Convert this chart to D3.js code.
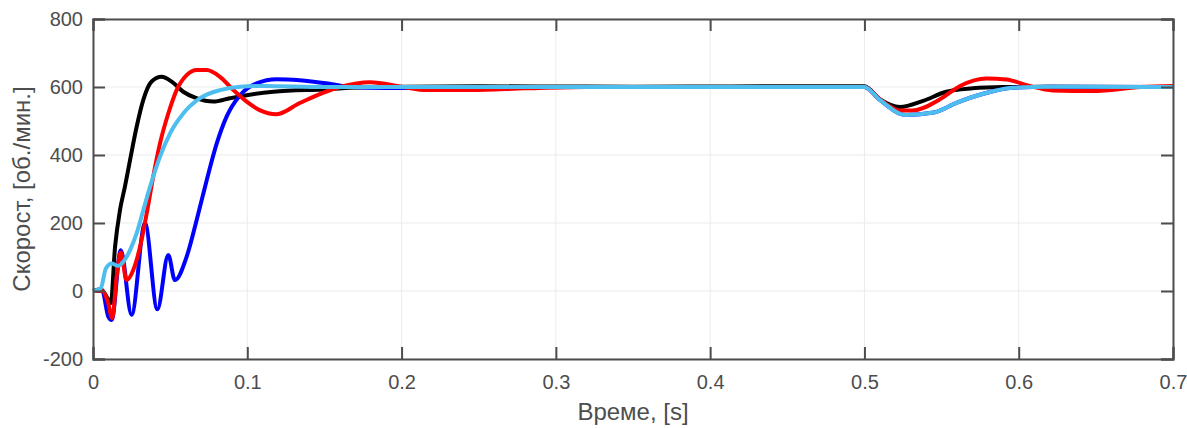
<!DOCTYPE html>
<html>
<head>
<meta charset="utf-8">
<script src="https://cdn.jsdelivr.net/npm/d3@7"></script>
<style>
  body { margin: 0; background: #fff; }
  text { font-family: "Liberation Sans", Arial, sans-serif; fill: #4d4d4d; }
</style>
</head>
<body>
<script>
var margin = {top: 19, right: 14, bottom: 69, left: 93};
var width = 1187 - margin.left - margin.right;
var height = 428 - margin.top - margin.bottom;

// time [s] and speed [rpm]
const blackT = [0, 0.005, 0.008, 0.0115, 0.0143, 0.0175, 0.0207, 0.024, 0.0283, 0.0326, 0.038, 0.0445, 0.051, 0.0585, 0.067, 0.078, 0.0888, 0.0996, 0.117, 0.149, 0.18, 0.25, 0.35, 0.45, 0.5, 0.51, 0.523, 0.538, 0.553, 0.57, 0.59, 0.62, 0.7];
const blackV = [0, 5, -10, -36, 130, 238, 307, 385, 483, 562, 616, 630, 616, 586, 567, 557, 567, 576, 586, 593, 600, 602, 601, 602, 602, 564, 541, 559, 586, 596, 600, 601, 600];

const redT = [0, 0.006, 0.0095, 0.0125, 0.0153, 0.018, 0.0218, 0.0261, 0.0305, 0.0348, 0.039, 0.0434, 0.0488, 0.0542, 0.0607, 0.0672, 0.0737, 0.0823, 0.091, 0.0996, 0.108, 0.119, 0.134, 0.160, 0.1795, 0.201, 0.216, 0.246, 0.28, 0.32, 0.5, 0.51, 0.523, 0.531, 0.549, 0.562, 0.579, 0.592, 0.607, 0.622, 0.648, 0.679, 0.7];
const redV = [0, 0, -30, -80, 42, 113, 32, 62, 130, 228, 336, 434, 522, 591, 635, 650, 650, 630, 591, 557, 532, 520, 553, 600, 614, 600, 591, 591, 596, 600, 600, 564, 531, 531, 564, 603, 625, 622, 603, 590, 588, 600, 603];

const blueT = [0, 0.006, 0.0099, 0.0121, 0.018, 0.025, 0.0337, 0.0417, 0.0488, 0.0531, 0.0607, 0.0672, 0.0737, 0.0802, 0.0866, 0.0953, 0.106, 0.119, 0.134, 0.154, 0.167, 0.19, 0.25, 0.5, 0.51, 0.527, 0.545, 0.56, 0.577, 0.596, 0.62, 0.7];
const blueV = [0, 0, -75, -85, 120, -70, 199, -54, 106, 32, 101, 209, 326, 434, 513, 576, 611, 623, 620, 609, 600, 597, 600, 600, 562, 518, 525, 554, 580, 598, 601, 600];

const cyanT = [0, 0.005, 0.0084, 0.0121, 0.0164, 0.0197, 0.024, 0.0283, 0.0326, 0.037, 0.0434, 0.05, 0.0585, 0.0694, 0.0823, 0.0953, 0.110, 0.15, 0.5, 0.51, 0.527, 0.545, 0.56, 0.577, 0.596, 0.62, 0.7];
const cyanV = [0, 8, 67, 81, 74, 86, 120, 170, 238, 307, 395, 464, 522, 567, 591, 601, 603, 600, 600, 562, 518, 525, 554, 580, 598, 601, 600];

const xTicks = [0, 0.1, 0.2, 0.3, 0.4, 0.5, 0.6, 0.7];
const yTicks = [-200, 0, 200, 400, 600, 800];

var series = [
  {t: blackT, v: blackV, color: "#000000"},
  {t: blueT, v: blueV, color: "#0000ff"},
  {t: redT, v: redV, color: "#ff0000"},
  {t: cyanT, v: cyanV, color: "#4dbeee"}
];

var x = d3.scaleLinear().domain([0, 0.7]).range([0, width]);
var y = d3.scaleLinear().domain([-200, 800]).range([height, 0]);

var svg = d3.select("body").append("svg")
  .attr("width", 1187)
  .attr("height", 428)
.append("g")
  .attr("transform", "translate(" + margin.left + "," + margin.top + ")");

// grid
svg.append("g").selectAll("line").data(xTicks).enter().append("line")
  .attr("x1", d => x(d)).attr("x2", d => x(d))
  .attr("y1", 0).attr("y2", height)
  .attr("stroke", "#ebebeb").attr("stroke-width", 1);
svg.append("g").selectAll("line").data(yTicks).enter().append("line")
  .attr("x1", 0).attr("x2", width)
  .attr("y1", d => y(d)).attr("y2", d => y(d))
  .attr("stroke", "#ebebeb").attr("stroke-width", 1);

var lineFunction = d3.line()
  .x(d => x(d[0]))
  .y(d => y(d[1]))
  .curve(d3.curveMonotoneX);

var plot = svg.append("g");
series.forEach(function(s) {
  plot.append("path")
    .attr("d", lineFunction(d3.zip(s.t, s.v)))
    .attr("fill", "none")
    .attr("stroke", s.color)
    .attr("stroke-width", 4)
    .attr("stroke-linejoin", "round");
});

// axes, inward ticks like the original
var tickLen = 12;
var axisColor = "#4d4d4d";
var plain = d => String(d);

var xAxis = svg.append("g")
  .attr("transform", "translate(0," + height + ")")
  .call(d3.axisBottom(x).tickValues(xTicks).tickSize(-tickLen).tickPadding(16).tickFormat(plain));
var xAxisTop = svg.append("g")
  .call(d3.axisTop(x).tickValues(xTicks).tickSize(-tickLen).tickFormat(""));
var yAxis = svg.append("g")
  .call(d3.axisLeft(y).tickValues(yTicks).tickSize(-tickLen).tickPadding(10).tickFormat(plain));
var yAxisRight = svg.append("g")
  .attr("transform", "translate(" + width + ",0)")
  .call(d3.axisRight(y).tickValues(yTicks).tickSize(-tickLen).tickFormat(""));

[xAxis, xAxisTop, yAxis, yAxisRight].forEach(function(a) {
  a.select(".domain").attr("stroke", axisColor).attr("stroke-width", 2);
  a.selectAll(".tick line").attr("stroke", axisColor).attr("stroke-width", 2);
  a.selectAll(".tick text").attr("fill", axisColor)
    .style("font-family", "'Liberation Sans', Arial, sans-serif")
    .style("font-size", "20px");
});

svg.append("text")
  .attr("x", width / 2)
  .attr("y", height + 61)
  .attr("text-anchor", "middle")
  .style("font-size", "24px")
  .text("Време, [s]");

svg.append("text")
  .attr("transform", "translate(" + (-63) + "," + (height / 2) + ") rotate(-90)")
  .attr("text-anchor", "middle")
  .style("font-size", "24px")
  .text("Скорост, [об./мин.]");
</script>
</body>
</html>
